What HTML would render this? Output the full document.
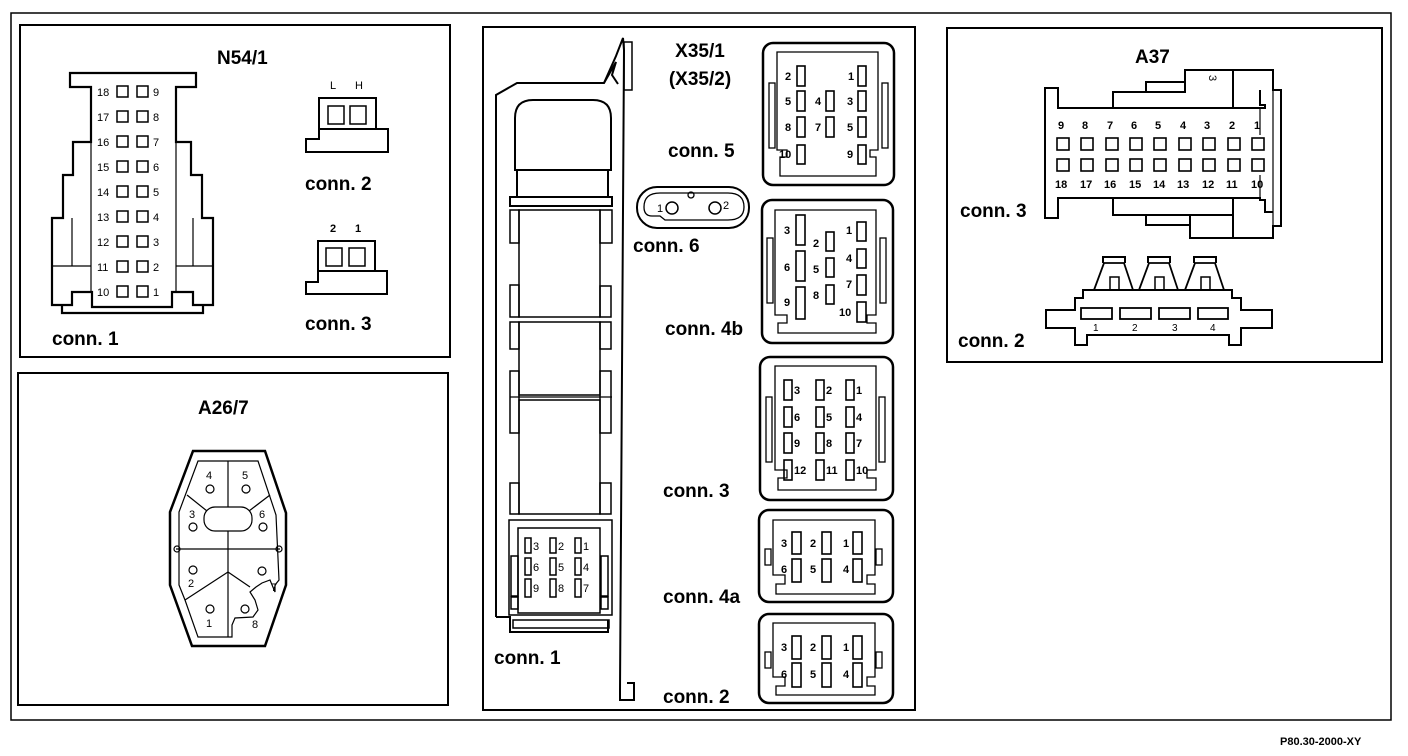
<!DOCTYPE html>
<html><head><meta charset="utf-8"><style>
html,body{margin:0;padding:0;background:#fff}
svg{display:block}
text{font-family:"Liberation Sans",sans-serif;fill:#000}
.t{font-weight:bold;font-size:19px}
.p{font-size:11px}
.b{font-weight:bold}
.s{font-size:10px}
</style></head><body>
<svg width="1408" height="756" viewBox="0 0 1408 756" xmlns="http://www.w3.org/2000/svg">
<g fill="none" stroke="#000" stroke-width="2">
<rect x="11" y="13" width="1380" height="707" stroke-width="1.5"/>
<rect x="20" y="25" width="430" height="332"/>
<rect x="18" y="373" width="430" height="332"/>
<rect x="483" y="27" width="432" height="683"/>
<rect x="947" y="28" width="435" height="334"/>
</g>

<!-- N54/1 -->
<text x="217" y="64" class="t">N54/1</text>
<g fill="none" stroke="#000" stroke-width="2.2">
<path d="M70,73 H196 V87 H176 V142 H191 V175 H202 V218 H213 V305 H193 V292 H172 V307 H92 V292 H72 V305 H52 V218 H63 V175 H73 V142 H91 V87 H70 Z"/>
<path d="M62,305 V313 H203 V305"/>
</g>
<g fill="none" stroke="#000" stroke-width="1.2">
<line x1="91" y1="87" x2="91" y2="292"/><line x1="176" y1="87" x2="176" y2="292"/>
<line x1="52" y1="266" x2="91" y2="266"/><line x1="176" y1="266" x2="213" y2="266"/>
<line x1="72" y1="218" x2="72" y2="266"/><line x1="193" y1="218" x2="193" y2="266"/>
<line x1="63" y1="175" x2="73" y2="175"/><line x1="191" y1="175" x2="202" y2="175"/>
</g>
<g fill="none" stroke="#000" stroke-width="1.5">
<rect x="117" y="86" width="11" height="11"/><rect x="137" y="86" width="11" height="11"/>
<rect x="117" y="111" width="11" height="11"/><rect x="137" y="111" width="11" height="11"/>
<rect x="117" y="136" width="11" height="11"/><rect x="137" y="136" width="11" height="11"/>
<rect x="117" y="161" width="11" height="11"/><rect x="137" y="161" width="11" height="11"/>
<rect x="117" y="186" width="11" height="11"/><rect x="137" y="186" width="11" height="11"/>
<rect x="117" y="211" width="11" height="11"/><rect x="137" y="211" width="11" height="11"/>
<rect x="117" y="236" width="11" height="11"/><rect x="137" y="236" width="11" height="11"/>
<rect x="117" y="261" width="11" height="11"/><rect x="137" y="261" width="11" height="11"/>
<rect x="117" y="286" width="11" height="11"/><rect x="137" y="286" width="11" height="11"/>
</g>
<g class="p">
<text x="97" y="96">18</text><text x="153" y="96">9</text>
<text x="97" y="121">17</text><text x="153" y="121">8</text>
<text x="97" y="146">16</text><text x="153" y="146">7</text>
<text x="97" y="171">15</text><text x="153" y="171">6</text>
<text x="97" y="196">14</text><text x="153" y="196">5</text>
<text x="97" y="221">13</text><text x="153" y="221">4</text>
<text x="97" y="246">12</text><text x="153" y="246">3</text>
<text x="97" y="271">11</text><text x="153" y="271">2</text>
<text x="97" y="296">10</text><text x="153" y="296">1</text>
</g>
<text x="52" y="345" class="t">conn. 1</text>
<text x="330" y="89" class="p">L</text><text x="355" y="89" class="p">H</text>
<g fill="none" stroke="#000" stroke-width="2">
<path d="M319,98 H376 V129 H388 V152 H306 V139 H319 Z"/><line x1="319" y1="129" x2="376" y2="129"/>
<rect x="328" y="106" width="16" height="18" stroke-width="1.5"/><rect x="350" y="106" width="16" height="18" stroke-width="1.5"/>
<path d="M318,241 H375 V271 H387 V294 H306 V282 H318 Z"/><line x1="318" y1="271" x2="375" y2="271"/>
<rect x="326" y="248" width="16" height="18" stroke-width="1.5"/><rect x="349" y="248" width="16" height="18" stroke-width="1.5"/>
</g>
<text x="305" y="190" class="t">conn. 2</text>
<text x="330" y="232" class="p b">2</text><text x="355" y="232" class="p b">1</text>
<text x="305" y="330" class="t">conn. 3</text>

<!-- A26/7 -->
<text x="198" y="414" class="t">A26/7</text>
<g fill="none" stroke="#000">
<path d="M193,451 H265 L286,513 V585 L265,646 H192 L170,585 V512 Z" stroke-width="2.5"/>
<g stroke-width="1.2">
<path d="M198,461 H258 L276,515 L279,580 L275,585 V592 L270,580 L262,583 L256,587 L250,592 L255,600 L258,610 L253,617 L235,618 L232,625 V637 H198 L185,600 L179,585 V512 Z"/>
<rect x="204" y="507" width="48" height="24" rx="11"/>
<line x1="228" y1="461" x2="228" y2="507"/><line x1="228" y1="531" x2="228" y2="637"/>
<line x1="176" y1="549" x2="280" y2="549"/>
<line x1="187" y1="495" x2="207" y2="511"/><line x1="249" y1="511" x2="270" y2="495"/>
<line x1="185" y1="600" x2="228" y2="572"/><line x1="228" y1="572" x2="250" y2="587"/>
<circle cx="210" cy="489" r="4"/><circle cx="246" cy="489" r="4"/>
<circle cx="193" cy="527" r="4"/><circle cx="263" cy="527" r="4"/>
<circle cx="193" cy="570" r="4"/><circle cx="262" cy="571" r="4"/>
<circle cx="210" cy="609" r="4"/><circle cx="245" cy="609" r="4"/>
<circle cx="177" cy="549" r="3"/><circle cx="279" cy="549" r="3"/>
</g></g>
<g class="p">
<text x="206" y="479">4</text><text x="242" y="479">5</text>
<text x="189" y="518">3</text><text x="259" y="518">6</text>
<text x="188" y="587">2</text><text x="271" y="591">7</text>
<text x="206" y="627">1</text><text x="252" y="628">8</text>
</g>

<!-- X35 -->
<text x="700" y="57" class="t" text-anchor="middle" font-size="18">X35/1</text>
<text x="700" y="85" class="t" text-anchor="middle" font-size="18">(X35/2)</text>
<g fill="none" stroke="#000" stroke-width="2">
<path d="M496,617 V95 L517,83 H604 L616,56 L623,38 L624,50 L620,690 V700 H634 V683 H627"/>
<path d="M604,83 L616,62 L612,75 L618,84"/>
<rect x="624" y="42" width="8" height="48" stroke-width="1.5"/>
<path d="M496,617 H510 V632 H608 V620"/>
<path d="M515,170 V118 Q515,100 533,100 H593 Q611,100 611,118 V170 Z"/>
<rect x="517" y="170" width="91" height="27"/>
<rect x="510" y="197" width="102" height="9"/>
<rect x="519" y="210" width="81" height="107" stroke-width="1.5"/>
<rect x="519" y="322" width="81" height="73" stroke-width="1.5"/>
<rect x="519" y="400" width="81" height="114" stroke-width="1.5"/>
<line x1="510" y1="397" x2="612" y2="397" stroke-width="1.2"/>
<g stroke-width="1.5">
<rect x="510" y="210" width="9" height="33"/><rect x="600" y="210" width="12" height="33"/>
<rect x="510" y="285" width="9" height="32"/><rect x="600" y="286" width="11" height="31"/>
<rect x="510" y="322" width="9" height="27"/><rect x="600" y="322" width="11" height="27"/>
<rect x="510" y="371" width="9" height="62"/><rect x="600" y="371" width="11" height="62"/>
<rect x="510" y="483" width="9" height="31"/><rect x="600" y="483" width="11" height="31"/>
<rect x="509" y="520" width="103" height="95"/>
<rect x="518" y="528" width="82" height="85"/>
<rect x="511" y="556" width="7" height="40"/><rect x="601" y="556" width="7" height="40"/>
<rect x="511" y="597" width="7" height="12"/><rect x="601" y="597" width="7" height="12"/>
<rect x="513" y="620" width="96" height="8"/>
</g>
<g stroke-width="1.5">
<rect x="525" y="538" width="6" height="15"/><rect x="550" y="538" width="6" height="15"/><rect x="575" y="538" width="6" height="15"/>
<rect x="525" y="558" width="6" height="17"/><rect x="550" y="558" width="6" height="17"/><rect x="575" y="558" width="6" height="17"/>
<rect x="525" y="579" width="6" height="18"/><rect x="550" y="579" width="6" height="18"/><rect x="575" y="579" width="6" height="18"/>
</g>
</g>
<g class="p">
<text x="533" y="550">3</text><text x="558" y="550">2</text><text x="583" y="550">1</text>
<text x="533" y="571">6</text><text x="558" y="571">5</text><text x="583" y="571">4</text>
<text x="533" y="592">9</text><text x="558" y="592">8</text><text x="583" y="592">7</text>
</g>
<text x="494" y="664" class="t">conn. 1</text>

<g fill="none" stroke="#000" stroke-width="2">
<rect x="637" y="187" width="112" height="41" rx="20"/>
<path d="M644,207 Q644,193 660,193 H728 Q744,193 744,207 Q744,220 728,220 H665 L660,216 H652 Q644,216 644,207" stroke-width="1.3"/>
<circle cx="672" cy="208" r="6" stroke-width="1.5"/><circle cx="691" cy="195" r="3" stroke-width="1.3"/><circle cx="715" cy="208" r="6" stroke-width="1.5"/>
</g>
<text x="657" y="212" class="p">1</text><text x="723" y="209" class="p">2</text>
<text x="633" y="252" class="t">conn. 6</text>

<g fill="none" stroke="#000">
<rect x="763" y="43" width="131" height="142" rx="10" stroke-width="2.5"/>
<path d="M777,52 H878 V150 H870 V157 H876 V176 H780 V157 H787 V150 H777 Z" stroke-width="1.3"/>
<rect x="769" y="83" width="6" height="65" stroke-width="1.3"/><rect x="882" y="83" width="6" height="65" stroke-width="1.3"/>
<g stroke-width="1.6">
<rect x="797" y="66" width="8" height="20"/><rect x="858" y="66" width="8" height="20"/>
<rect x="797" y="91" width="8" height="20"/><rect x="826" y="91" width="8" height="20"/><rect x="858" y="91" width="8" height="20"/>
<rect x="797" y="117" width="8" height="20"/><rect x="826" y="117" width="8" height="20"/><rect x="858" y="117" width="8" height="20"/>
<rect x="797" y="145" width="8" height="19"/><rect x="858" y="145" width="8" height="19"/>
</g></g>
<g class="p b">
<text x="785" y="80">2</text><text x="848" y="80">1</text>
<text x="785" y="105">5</text><text x="815" y="105">4</text><text x="847" y="105">3</text>
<text x="785" y="131">8</text><text x="815" y="131">7</text><text x="847" y="131">5</text>
<text x="779" y="158">10</text><text x="847" y="158">9</text>
</g>
<text x="668" y="157" class="t">conn. 5</text>

<g fill="none" stroke="#000">
<rect x="762" y="200" width="131" height="143" rx="10" stroke-width="2.5"/>
<path d="M775,210 H876 V315 H867 V323 H876 V333 H778 V323 H787 V315 H775 Z" stroke-width="1.3"/>
<rect x="767" y="238" width="6" height="65" stroke-width="1.3"/><rect x="880" y="238" width="6" height="65" stroke-width="1.3"/>
<g stroke-width="1.6">
<rect x="796" y="215" width="9" height="30"/><rect x="796" y="251" width="9" height="30"/><rect x="796" y="287" width="9" height="32"/>
<rect x="826" y="232" width="8" height="19"/><rect x="826" y="258" width="8" height="19"/><rect x="826" y="285" width="8" height="19"/>
<rect x="857" y="222" width="9" height="19"/><rect x="857" y="249" width="9" height="19"/><rect x="857" y="275" width="9" height="20"/><rect x="857" y="302" width="9" height="20"/>
</g></g>
<g class="p b">
<text x="784" y="234">3</text><text x="784" y="271">6</text><text x="784" y="306">9</text>
<text x="813" y="247">2</text><text x="813" y="273">5</text><text x="813" y="299">8</text>
<text x="846" y="234">1</text><text x="846" y="262">4</text><text x="846" y="288">7</text><text x="839" y="316">10</text>
</g>
<text x="665" y="335" class="t">conn. 4b</text>

<g fill="none" stroke="#000">
<rect x="760" y="357" width="133" height="143" rx="10" stroke-width="2.5"/>
<path d="M775,366 H876 V470 H867 V478 H876 V490 H778 V478 H787 V470 H775 Z" stroke-width="1.3"/>
<rect x="766" y="397" width="6" height="65" stroke-width="1.3"/><rect x="879" y="397" width="6" height="65" stroke-width="1.3"/>
<g stroke-width="1.6">
<rect x="784" y="380" width="8" height="20"/><rect x="816" y="380" width="8" height="20"/><rect x="846" y="380" width="8" height="20"/>
<rect x="784" y="407" width="8" height="20"/><rect x="816" y="407" width="8" height="20"/><rect x="846" y="407" width="8" height="20"/>
<rect x="784" y="433" width="8" height="20"/><rect x="816" y="433" width="8" height="20"/><rect x="846" y="433" width="8" height="20"/>
<rect x="784" y="460" width="8" height="20"/><rect x="816" y="460" width="8" height="20"/><rect x="846" y="460" width="8" height="20"/>
</g></g>
<g class="p b">
<text x="794" y="394">3</text><text x="826" y="394">2</text><text x="856" y="394">1</text>
<text x="794" y="421">6</text><text x="826" y="421">5</text><text x="856" y="421">4</text>
<text x="794" y="447">9</text><text x="826" y="447">8</text><text x="856" y="447">7</text>
<text x="794" y="474">12</text><text x="826" y="474">11</text><text x="856" y="474">10</text>
</g>
<text x="663" y="497" class="t">conn. 3</text>

<g fill="none" stroke="#000">
<rect x="759" y="510" width="134" height="92" rx="10" stroke-width="2.5"/>
<path d="M773,520 H875 V575 H867 V584 H875 V594 H776 V584 H785 V575 H773 Z" stroke-width="1.3"/>
<rect x="765" y="549" width="6" height="16" stroke-width="1.3"/><rect x="876" y="549" width="6" height="16" stroke-width="1.3"/>
<g stroke-width="1.6">
<rect x="792" y="532" width="9" height="22"/><rect x="822" y="532" width="9" height="22"/><rect x="853" y="532" width="9" height="22"/>
<rect x="792" y="559" width="9" height="23"/><rect x="822" y="559" width="9" height="23"/><rect x="853" y="559" width="9" height="23"/>
</g></g>
<g class="p b">
<text x="781" y="547">3</text><text x="810" y="547">2</text><text x="843" y="547">1</text>
<text x="781" y="573">6</text><text x="810" y="573">5</text><text x="843" y="573">4</text>
</g>
<text x="663" y="603" class="t">conn. 4a</text>

<g fill="none" stroke="#000">
<rect x="759" y="614" width="134" height="89" rx="10" stroke-width="2.5"/>
<path d="M773,623 H875 V677 H867 V686 H875 V695 H776 V686 H785 V677 H773 Z" stroke-width="1.3"/>
<rect x="765" y="652" width="6" height="16" stroke-width="1.3"/><rect x="876" y="652" width="6" height="16" stroke-width="1.3"/>
<g stroke-width="1.6">
<rect x="792" y="636" width="9" height="23"/><rect x="822" y="636" width="9" height="23"/><rect x="853" y="636" width="9" height="23"/>
<rect x="792" y="663" width="9" height="24"/><rect x="822" y="663" width="9" height="24"/><rect x="853" y="663" width="9" height="24"/>
</g></g>
<g class="p b">
<text x="781" y="651">3</text><text x="810" y="651">2</text><text x="843" y="651">1</text>
<text x="781" y="678">6</text><text x="810" y="678">5</text><text x="843" y="678">4</text>
</g>
<text x="663" y="703" class="t">conn. 2</text>

<!-- A37 -->
<text x="1135" y="63" class="t">A37</text>
<g fill="none" stroke="#000" stroke-width="2">
<path d="M1045,88 H1058 V108 H1113 V92 H1146 V82 H1185 V70 H1273 V90 H1281 V226 H1273 V238 H1190 V225 H1146 V215 H1113 V198 H1058 V218 H1045 Z"/>
<path d="M1113,108 H1265 V105 H1260 V90 M1233,70 V108 M1146,92 H1185 V82"/>
<path d="M1113,198 H1260 V200 H1265 V212 H1273 M1233,198 V238 M1146,215 H1233 M1190,215 V225"/>
<path d="M1260,108 V135 M1260,175 V198 M1273,90 V226" stroke-width="1.2"/>
</g>
<text x="1208" y="84" class="p" transform="rotate(90 1213 80)">3</text>
<g class="p b">
<text x="1058" y="129">9</text><text x="1082" y="129">8</text><text x="1107" y="129">7</text><text x="1131" y="129">6</text><text x="1155" y="129">5</text><text x="1180" y="129">4</text><text x="1204" y="129">3</text><text x="1229" y="129">2</text><text x="1254" y="129">1</text>
<text x="1055" y="188">18</text><text x="1080" y="188">17</text><text x="1104" y="188">16</text><text x="1129" y="188">15</text><text x="1153" y="188">14</text><text x="1177" y="188">13</text><text x="1202" y="188">12</text><text x="1226" y="188">11</text><text x="1251" y="188">10</text>
</g>
<g fill="none" stroke="#000" stroke-width="1.6">
<rect x="1057" y="138" width="12" height="12"/><rect x="1081" y="138" width="12" height="12"/><rect x="1106" y="138" width="12" height="12"/><rect x="1130" y="138" width="12" height="12"/><rect x="1154" y="138" width="12" height="12"/><rect x="1179" y="138" width="12" height="12"/><rect x="1203" y="138" width="12" height="12"/><rect x="1228" y="138" width="12" height="12"/><rect x="1252" y="138" width="12" height="12"/>
<rect x="1057" y="159" width="12" height="12"/><rect x="1081" y="159" width="12" height="12"/><rect x="1106" y="159" width="12" height="12"/><rect x="1130" y="159" width="12" height="12"/><rect x="1154" y="159" width="12" height="12"/><rect x="1179" y="159" width="12" height="12"/><rect x="1203" y="159" width="12" height="12"/><rect x="1228" y="159" width="12" height="12"/><rect x="1252" y="159" width="12" height="12"/>
</g>
<text x="960" y="217" class="t">conn. 3</text>
<g fill="none" stroke="#000" stroke-width="2">
<path d="M1046,310 H1075 V298 H1083 V290 H1232 V298 H1241 V310 H1272 V328 H1241 V345 H1229 V335 H1087 V345 H1075 V328 H1046 Z"/>
<path d="M1094,290 L1104,263 H1124 L1133,290 M1139,290 L1149,263 H1169 L1178,290 M1185,290 L1195,263 H1215 L1224,290" stroke-width="1.8"/>
<path d="M1103,263 V257 H1125 V263 M1148,263 V257 H1170 V263 M1194,263 V257 H1216 V263"/>
<rect x="1110" y="277" width="9" height="13" stroke-width="1.5"/><rect x="1155" y="277" width="9" height="13" stroke-width="1.5"/><rect x="1201" y="277" width="9" height="13" stroke-width="1.5"/>
<rect x="1081" y="308" width="31" height="11" stroke-width="1.8"/><rect x="1120" y="308" width="31" height="11" stroke-width="1.8"/><rect x="1159" y="308" width="31" height="11" stroke-width="1.8"/><rect x="1198" y="308" width="30" height="11" stroke-width="1.8"/>
</g>
<g class="s">
<text x="1093" y="331">1</text><text x="1132" y="331">2</text><text x="1172" y="331">3</text><text x="1210" y="331">4</text>
</g>
<text x="958" y="347" class="t">conn. 2</text>

<text x="1280" y="745" font-size="11" font-weight="bold">P80.30-2000-XY</text>
</svg>
</body></html>
